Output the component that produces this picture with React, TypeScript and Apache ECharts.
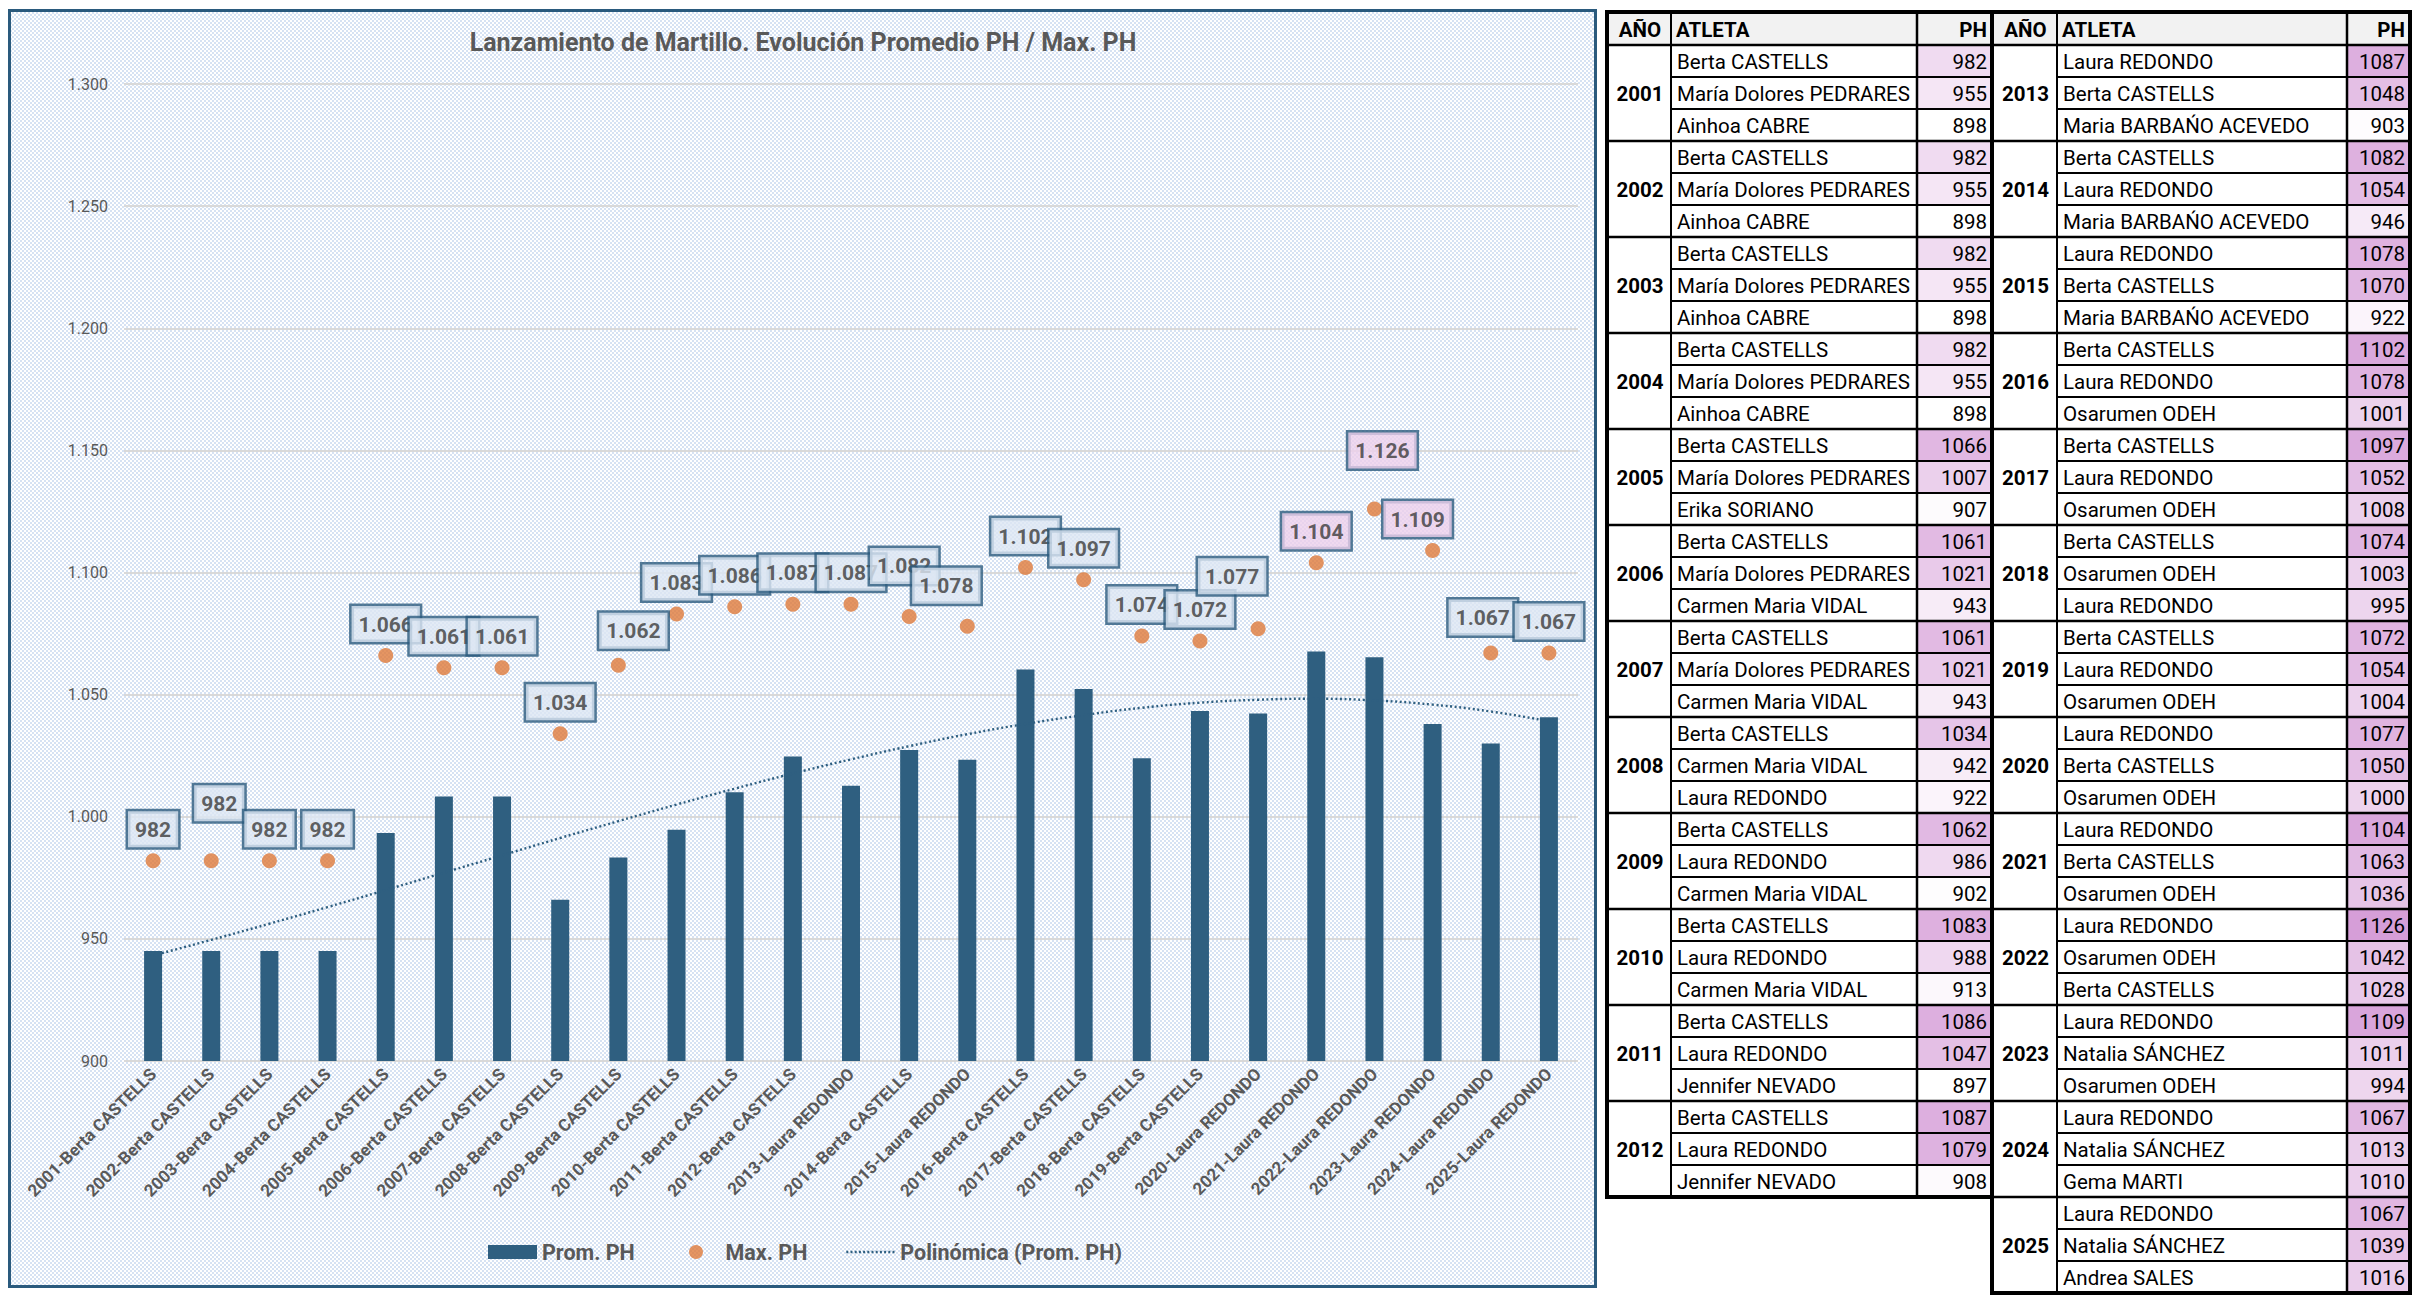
import React, { useEffect, useRef } from 'react';
import * as echarts from 'echarts';

// ---------------- DATA ----------------
const categories = [
  '2001-Berta CASTELLS', '2002-Berta CASTELLS', '2003-Berta CASTELLS', '2004-Berta CASTELLS',
  '2005-Berta CASTELLS', '2006-Berta CASTELLS', '2007-Berta CASTELLS', '2008-Berta CASTELLS',
  '2009-Berta CASTELLS', '2010-Berta CASTELLS', '2011-Berta CASTELLS', '2012-Berta CASTELLS',
  '2013-Laura REDONDO', '2014-Berta CASTELLS', '2015-Laura REDONDO', '2016-Berta CASTELLS',
  '2017-Berta CASTELLS', '2018-Berta CASTELLS', '2019-Berta CASTELLS', '2020-Laura REDONDO',
  '2021-Laura REDONDO', '2022-Laura REDONDO', '2023-Laura REDONDO', '2024-Laura REDONDO',
  '2025-Laura REDONDO',
];

const promPH = [
  945, 945, 945, 945, 993.3, 1008.3, 1008.3, 966, 983.3, 994.7, 1010, 1024.7,
  1012.7, 1027.3, 1023.3, 1060.3, 1052.3, 1024, 1043.3, 1042.3, 1067.7, 1065.3, 1038, 1030, 1040.7,
];

const maxPH = [
  982, 982, 982, 982, 1066, 1061, 1061, 1034, 1062, 1083, 1086, 1087,
  1087, 1082, 1078, 1102, 1097, 1074, 1072, 1077, 1104, 1126, 1109, 1067, 1067,
];

const trendPH = [
  943.2, 949.6, 956.2, 963.0, 970.0, 977.1, 984.2, 991.3, 998.2, 1005.0, 1011.5, 1017.7,
  1023.5, 1028.9, 1033.8, 1038.0, 1041.6, 1044.6, 1046.7, 1047.9, 1048.3, 1047.6, 1045.9, 1043.1, 1039.1,
];

const highlightedYears = ['2021', '2022', '2023'];

const yMin = 900;
const yMax = 1300;
const yStep = 50;

const tableYears = [
  '2001', '2002', '2003', '2004', '2005', '2006', '2007', '2008', '2009', '2010', '2011', '2012',
  '2013', '2014', '2015', '2016', '2017', '2018', '2019', '2020', '2021', '2022', '2023', '2024', '2025',
];

const tableAthletes = [
  'Berta CASTELLS', 'María Dolores PEDRARES', 'Ainhoa CABRE',
  'Berta CASTELLS', 'María Dolores PEDRARES', 'Ainhoa CABRE',
  'Berta CASTELLS', 'María Dolores PEDRARES', 'Ainhoa CABRE',
  'Berta CASTELLS', 'María Dolores PEDRARES', 'Ainhoa CABRE',
  'Berta CASTELLS', 'María Dolores PEDRARES', 'Erika SORIANO',
  'Berta CASTELLS', 'María Dolores PEDRARES', 'Carmen Maria VIDAL',
  'Berta CASTELLS', 'María Dolores PEDRARES', 'Carmen Maria VIDAL',
  'Berta CASTELLS', 'Carmen Maria VIDAL', 'Laura REDONDO',
  'Berta CASTELLS', 'Laura REDONDO', 'Carmen Maria VIDAL',
  'Berta CASTELLS', 'Laura REDONDO', 'Carmen Maria VIDAL',
  'Berta CASTELLS', 'Laura REDONDO', 'Jennifer NEVADO',
  'Berta CASTELLS', 'Laura REDONDO', 'Jennifer NEVADO',
  'Laura REDONDO', 'Berta CASTELLS', 'Maria BARBAŃO ACEVEDO',
  'Berta CASTELLS', 'Laura REDONDO', 'Maria BARBAŃO ACEVEDO',
  'Laura REDONDO', 'Berta CASTELLS', 'Maria BARBAŃO ACEVEDO',
  'Berta CASTELLS', 'Laura REDONDO', 'Osarumen ODEH',
  'Berta CASTELLS', 'Laura REDONDO', 'Osarumen ODEH',
  'Berta CASTELLS', 'Osarumen ODEH', 'Laura REDONDO',
  'Berta CASTELLS', 'Laura REDONDO', 'Osarumen ODEH',
  'Laura REDONDO', 'Berta CASTELLS', 'Osarumen ODEH',
  'Laura REDONDO', 'Berta CASTELLS', 'Osarumen ODEH',
  'Laura REDONDO', 'Osarumen ODEH', 'Berta CASTELLS',
  'Laura REDONDO', 'Natalia SÁNCHEZ', 'Osarumen ODEH',
  'Laura REDONDO', 'Natalia SÁNCHEZ', 'Gema MARTI',
  'Laura REDONDO', 'Natalia SÁNCHEZ', 'Andrea SALES',
];

const tablePH = [
  982, 955, 898,
  982, 955, 898,
  982, 955, 898,
  982, 955, 898,
  1066, 1007, 907,
  1061, 1021, 943,
  1061, 1021, 943,
  1034, 942, 922,
  1062, 986, 902,
  1083, 988, 913,
  1086, 1047, 897,
  1087, 1079, 908,
  1087, 1048, 903,
  1082, 1054, 946,
  1078, 1070, 922,
  1102, 1078, 1001,
  1097, 1052, 1008,
  1074, 1003, 995,
  1072, 1054, 1004,
  1077, 1050, 1000,
  1104, 1063, 1036,
  1126, 1042, 1028,
  1109, 1011, 994,
  1067, 1013, 1010,
  1067, 1039, 1016,
];

// ---------------- STYLE ----------------
const FONT = "Roboto, 'Noto Sans', sans-serif";
const BAR_COLOR = '#2F5F80';
const DOT_COLOR = '#DE7A3B';
const FRAME_COLOR = '#2A5A7D';
const TEXT_GRAY = '#595959';

// label nudges (px) for a few data labels, as placed in the original
const labelNudge: Record<number, [number, number]> = {
  1: [8, -26],
  8: [15, -3],
  13: [-5, -19],
  14: [-21, -9],
  19: [-26, -21],
  21: [8, -27],
  22: [-15, 0],
  23: [-8, -4],
};

function fmtThousands(v: number): string {
  const r = Math.round(v);
  if (r >= 1000) {
    return Math.floor(r / 1000) + '.' + String(r % 1000).padStart(3, '0');
  }
  return String(r);
}

function mixPink(v: number, lo: number, hi: number): string {
  const t = Math.max(0, Math.min(1, (v - lo) / (hi - lo)));
  const end = [214, 158, 216];
  const c = end.map((e) => Math.round(255 + (e - 255) * t));
  return `rgb(${c[0]},${c[1]},${c[2]})`;
}

function buildTable(): any[] {
  const els: any[] = [];
  const rowH = 32;
  const headTop = 12;
  const headBot = 45;
  const lo = Math.min(...tablePH);
  const hi = Math.max(...tablePH);
  const tables = [
    { cols: [1607, 1671, 1917, 1992], start: 0, count: 12 },
    { cols: [1992, 2057, 2347, 2410], start: 12, count: 13 },
  ];
  const fReg = `normal 20.5px ${FONT}`;
  const fBold = `bold 20.5px ${FONT}`;
  const txt = (x: number, y: number, text: string, font: string, align: string, z: number) => ({
    type: 'text',
    x,
    y,
    z,
    silent: true,
    style: {
      text,
      font,
      fill: '#000000',
      align,
      textAlign: align,
      verticalAlign: 'middle',
      textVerticalAlign: 'middle',
    },
  });
  const line = (x1: number, y1: number, x2: number, y2: number, w: number) => ({
    type: 'line',
    z: 8,
    silent: true,
    shape: { x1, y1, x2, y2 },
    style: { stroke: '#000000', lineWidth: w },
  });

  tables.forEach((t) => {
    const [c0, c1, c2, c3] = t.cols;
    const bottom = headBot + t.count * 3 * rowH;
    els.push({
      type: 'rect', z: 1, silent: true,
      shape: { x: c0, y: headTop, width: c3 - c0, height: headBot - headTop },
      style: { fill: '#F2F2F2' },
    });
    els.push({
      type: 'rect', z: 1, silent: true,
      shape: { x: c0, y: headBot, width: c3 - c0, height: bottom - headBot },
      style: { fill: '#FFFFFF' },
    });
    els.push(txt((c0 + c1) / 2 + 1, (headTop + headBot) / 2 + 1, 'AÑO', fBold, 'center', 5));
    els.push(txt(c1 + 5, (headTop + headBot) / 2 + 1, 'ATLETA', fBold, 'left', 5));
    els.push(txt(c3 - 5, (headTop + headBot) / 2 + 1, 'PH', fBold, 'right', 5));
    for (let g = 0; g < t.count; g++) {
      const yi = t.start + g;
      const gy = headBot + g * 3 * rowH;
      els.push(txt((c0 + c1) / 2 + 1, gy + 1.5 * rowH + 1, tableYears[yi], fBold, 'center', 5));
      for (let r = 0; r < 3; r++) {
        const idx = yi * 3 + r;
        const ry = gy + r * rowH;
        els.push(txt(c1 + 6, ry + rowH / 2 + 1, tableAthletes[idx], fReg, 'left', 5));
        els.push({
          type: 'rect', z: 6, silent: true,
          shape: { x: c2, y: ry, width: c3 - c2, height: rowH },
          style: { fill: mixPink(tablePH[idx], lo, hi) },
        });
        els.push(txt(c3 - 5, ry + rowH / 2 + 1, String(tablePH[idx]), fReg, 'right', 7));
        if (r > 0) els.push(line(c1, ry, c3, ry, 2));
      }
      if (g > 0) els.push(line(c0, gy, c3, gy, 2.5));
    }
    els.push(line(c0, headBot, c3, headBot, 2.5));
    els.push(line(c1, headTop, c1, bottom, 2));
    els.push(line(c2, headTop, c2, bottom, 2.5));
    els.push({
      type: 'rect', z: 9, silent: true,
      shape: { x: c0, y: headTop, width: c3 - c0, height: bottom - headTop },
      style: { fill: 'none', stroke: '#000000', lineWidth: 4 },
    });
  });
  return els;
}

function makePattern(): any {
  const c = document.createElement('canvas');
  c.width = 4;
  c.height = 4;
  const ctx = c.getContext('2d');
  if (ctx) {
    ctx.fillStyle = '#FFFFFF';
    ctx.fillRect(0, 0, 4, 4);
    ctx.fillStyle = '#D6E2F3';
    ctx.fillRect(0, 0, 2, 2);
    ctx.fillRect(2, 2, 2, 2);
  }
  return { image: c, repeat: 'repeat', imageWidth: 4, imageHeight: 4 };
}

export default function App() {
  const ref = useRef<HTMLDivElement>(null);

  useEffect(() => {
    if (!ref.current) return;
    const chart = echarts.init(ref.current, undefined, { renderer: 'svg' });

    const scatterData = maxPH.map((v, i) => {
      const year = categories[i].slice(0, 4);
      const pink = highlightedYears.includes(year);
      return {
        value: v,
        label: {
          offset: labelNudge[i] || [0, 0],
          backgroundColor: pink ? '#ECD0EB' : '#DCE6F2',
        },
      };
    });

    const legendBase = {
      top: 1241,
      padding: 0,
      itemWidth: 49,
      itemHeight: 14,
      textStyle: { color: TEXT_GRAY, fontSize: 21.5, fontWeight: 'bold', fontFamily: FONT },
    };

    const option: any = {
      animation: false,
      backgroundColor: '#FFFFFF',
      textStyle: { fontFamily: FONT },
      grid: { left: 124, top: 84, width: 1454, height: 977, containLabel: false },
      legend: [
        { ...legendBase, left: 488, data: [{ name: 'Prom. PH', icon: 'rect' }] },
        { ...legendBase, left: 689, data: [{ name: 'Max. PH', icon: 'circle' }] },
        {
          ...legendBase,
          left: 845,
          data: [
            {
              name: 'Polinómica (Prom. PH)',
              itemStyle: { color: 'rgba(0,0,0,0)', borderWidth: 0, opacity: 0 },
              lineStyle: { color: BAR_COLOR, width: 2.6, type: [2, 2.2] },
            },
          ],
        },
      ],
      xAxis: {
        type: 'category',
        data: categories,
        boundaryGap: true,
        axisTick: { show: false },
        axisLine: { show: false },
        axisLabel: {
          interval: 0,
          rotate: 45,
          margin: 10,
          color: TEXT_GRAY,
          fontSize: 17,
          fontWeight: 'bold',
          fontFamily: FONT,
        },
      },
      yAxis: {
        type: 'value',
        min: yMin,
        max: yMax,
        interval: yStep,
        axisLine: { show: false },
        axisTick: { show: false },
        axisLabel: {
          margin: 16,
          color: TEXT_GRAY,
          fontSize: 16,
          fontFamily: FONT,
          formatter: (v: number) => fmtThousands(v),
        },
        splitLine: { lineStyle: { color: '#D9D9D9', width: 2 } },
      },
      series: [
        {
          name: 'Prom. PH',
          type: 'bar',
          data: promPH,
          barWidth: 18,
          itemStyle: { color: BAR_COLOR },
          z: 2,
        },
        {
          name: 'Polinómica (Prom. PH)',
          type: 'line',
          data: trendPH,
          smooth: true,
          symbol: 'none',
          showSymbol: false,
          lineStyle: { color: BAR_COLOR, width: 2.4, type: [2, 2.6] },
          itemStyle: { color: BAR_COLOR },
          z: 3,
        },
        {
          name: 'Max. PH',
          type: 'scatter',
          data: scatterData,
          symbol: 'circle',
          symbolSize: 15,
          itemStyle: { color: DOT_COLOR },
          z: 4,
          label: {
            show: true,
            position: 'top',
            distance: 6,
            formatter: (p: any) => fmtThousands(p.value),
            color: '#3A3A3A',
            fontSize: 21,
            fontWeight: 'bold',
            fontFamily: FONT,
            backgroundColor: '#DCE6F2',
            borderColor: FRAME_COLOR,
            borderWidth: 2.5,
            padding: [8, 7, 7, 7],
            lineHeight: 21,
          },
        },
      ],
      graphic: {
        elements: [
          {
            type: 'rect',
            z: -10,
            silent: true,
            shape: { x: 9.5, y: 10.5, width: 1586, height: 1276 },
            style: { fill: makePattern(), stroke: FRAME_COLOR, lineWidth: 3 },
          },
          {
            type: 'text',
            x: 803,
            y: 42,
            z: 5,
            silent: true,
            style: {
              text: 'Lanzamiento de Martillo. Evolución Promedio PH / Max. PH',
              font: `bold 25px ${FONT}`,
              fill: TEXT_GRAY,
              align: 'center',
              textAlign: 'center',
              verticalAlign: 'middle',
              textVerticalAlign: 'middle',
            },
          },
          ...buildTable(),
        ],
      },
    };

    chart.setOption(option);
    return () => {
      chart.dispose();
    };
  }, []);

  return (
    <div
      ref={ref}
      style={{ position: 'absolute', left: 0, top: 0, width: 2422, height: 1312 }}
    />
  );
}
